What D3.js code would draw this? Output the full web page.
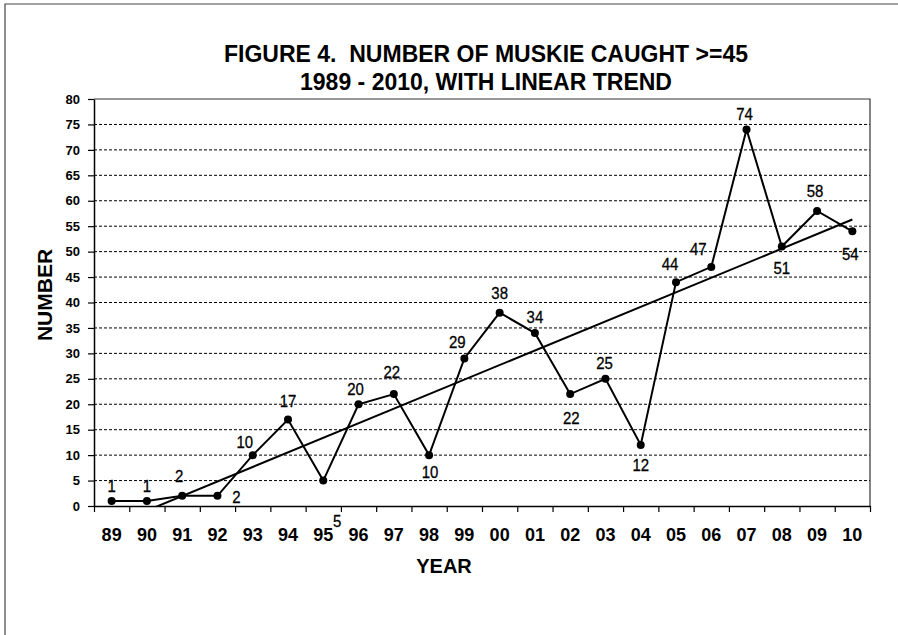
<!DOCTYPE html>
<html>
<head>
<meta charset="utf-8">
<script src="https://cdn.jsdelivr.net/npm/d3@7"></script>
<style>
  body { margin: 0; background: #fff; }
  svg { display: block; font-family: "Liberation Sans", Arial, sans-serif; }
</style>
</head>
<body>
<div id="chart"></div>
<script>
// Data
const years = ['89', '90', '91', '92', '93', '94', '95', '96', '97', '98', '99',
               '00', '01', '02', '03', '04', '05', '06', '07', '08', '09', '10'];
const counts = [1, 1, 2, 2, 10, 17, 5, 20, 22, 10, 29, 38, 34, 22, 25, 12, 44, 47, 74, 51, 58, 54];
const yTickValues = [0, 5, 10, 15, 20, 25, 30, 35, 40, 45, 50, 55, 60, 65, 70, 75, 80];
const titleLines = ['FIGURE 4.  NUMBER OF MUSKIE CAUGHT >=45', '1989 - 2010, WITH LINEAR TREND'];
const xTitle = 'YEAR';
const yTitle = 'NUMBER';

// label offsets (dx, dy of baseline) per point, as placed in the original
const labelOffsets = [
    [0, -9], [0, -9], [-3, -14], [19, 7], [-8, -7], [0, -13], [14, 46], [-3, -9],
    [-2, -16], [1, 23], [-7, -10], [0, -14], [0, -10], [1, 30], [-1, -10], [0, 26],
    [-6, -12], [-13, -12], [-2, -10], [0, 27], [-2, -14], [-2, 29]
];

const W = 898, H = 635;
const plot = { left: 94, right: 870, top: 99, bottom: 506 };

const svg = d3.select('#chart').append('svg')
    .attr('width', W)
    .attr('height', H);

// outer frame (top and left edges visible)
svg.append('path')
    .attr('d', `M5,${H} L5,4 L${W},4`)
    .attr('fill', 'none')
    .attr('stroke', '#444')
    .attr('stroke-width', 1.2);

// scales
const x = d3.scaleBand()
    .domain(years)
    .range([plot.left, plot.right])
    .padding(0);

const xIdx = d3.scaleLinear()
    .domain([0, years.length])
    .range([plot.left, plot.right]);

const y = d3.scaleLinear()
    .domain([0, 80])
    .range([plot.bottom, plot.top]);

const cx = d => x(d) + x.bandwidth() / 2;

// gridlines
svg.append('g')
    .selectAll('line')
    .data(yTickValues.filter(v => v > 0 && v < 80))
    .enter()
    .append('line')
    .attr('x1', plot.left)
    .attr('x2', plot.right)
    .attr('y1', d => y(d))
    .attr('y2', d => y(d))
    .attr('stroke', '#000')
    .attr('stroke-width', 1)
    .attr('stroke-dasharray', '3,2');

// plot area border top and right
svg.append('path')
    .attr('d', `M${plot.left},${y(80)} L${plot.right},${y(80)} L${plot.right},${plot.bottom}`)
    .attr('fill', 'none')
    .attr('stroke', '#333')
    .attr('stroke-width', 1.2);

// y axis
const yAxis = svg.append('g')
    .attr('transform', `translate(${plot.left},0)`)
    .call(d3.axisLeft(y).tickValues(yTickValues).tickSize(6).tickPadding(8).tickSizeOuter(0));
yAxis.select('.domain').attr('stroke', '#000').attr('stroke-width', 1.5);
yAxis.selectAll('.tick line').attr('stroke', '#000').attr('stroke-width', 1.2);
yAxis.selectAll('text')
    .attr('font-size', 13)
    .attr('font-weight', 'bold')
    .attr('fill', '#000')
    .attr('font-family', '"Liberation Sans", Arial, sans-serif');

// x axis: tick marks on band edges, labels in band centres
const xTicks = svg.append('g')
    .attr('transform', `translate(0,${plot.bottom})`)
    .call(d3.axisBottom(xIdx).tickValues(d3.range(years.length + 1)).tickSize(6).tickFormat('').tickSizeOuter(0));
xTicks.select('.domain').attr('stroke', '#000').attr('stroke-width', 1.5);
xTicks.selectAll('.tick line').attr('stroke', '#000').attr('stroke-width', 1.2);

const xLabels = svg.append('g')
    .attr('transform', `translate(0,${plot.bottom})`)
    .call(d3.axisBottom(x).tickSize(0).tickPadding(22));
xLabels.select('.domain').remove();
xLabels.selectAll('text')
    .attr('font-size', 18)
    .attr('font-weight', 'bold')
    .attr('fill', '#000')
    .attr('font-family', '"Liberation Sans", Arial, sans-serif');

// linear trend (least squares over the series)
const n = counts.length;
const xs = d3.range(1, n + 1);
const mx = d3.mean(xs), my = d3.mean(counts);
const slope = d3.sum(xs, (v, i) => (v - mx) * (counts[i] - my)) / d3.sum(xs, v => (v - mx) ** 2);
const intercept = my - slope * mx;

svg.append('clipPath')
    .attr('id', 'plot-clip')
    .append('rect')
    .attr('x', plot.left)
    .attr('y', plot.top)
    .attr('width', plot.right - plot.left)
    .attr('height', plot.bottom - plot.top);

svg.append('line')
    .attr('clip-path', 'url(#plot-clip)')
    .attr('x1', cx(years[0]))
    .attr('y1', y(intercept + slope * 1))
    .attr('x2', cx(years[n - 1]))
    .attr('y2', y(intercept + slope * n))
    .attr('stroke', '#000')
    .attr('stroke-width', 2);

// data line
const line = d3.line()
    .x((d, i) => cx(years[i]))
    .y(d => y(d));

svg.append('path')
    .datum(counts)
    .attr('d', line)
    .attr('fill', 'none')
    .attr('stroke', '#000')
    .attr('stroke-width', 2)
    .attr('stroke-linejoin', 'miter');

svg.append('g')
    .selectAll('circle')
    .data(counts)
    .enter()
    .append('circle')
    .attr('cx', (d, i) => cx(years[i]))
    .attr('cy', d => y(d))
    .attr('r', 4)
    .attr('fill', '#000');

// data labels (narrow look, like the original)
svg.append('g')
    .selectAll('text')
    .data(counts)
    .enter()
    .append('text')
    .attr('transform', (d, i) =>
        `translate(${cx(years[i]) + labelOffsets[i][0]},${y(d) + labelOffsets[i][1]}) scale(0.88,1)`)
    .attr('text-anchor', 'middle')
    .attr('font-family', '"Liberation Sans Narrow", "Arial Narrow", "Liberation Sans", Arial, sans-serif')
    .attr('font-size', 17)
    .attr('fill', '#000')
    .attr('stroke', '#000')
    .attr('stroke-width', 0.3)
    .text(d => d);

// titles
svg.append('g')
    .selectAll('text')
    .data(titleLines)
    .enter()
    .append('text')
    .attr('x', 486)
    .attr('y', (d, i) => 62 + i * 28)
    .attr('text-anchor', 'middle')
    .attr('font-size', 23)
    .attr('font-weight', 'bold')
    .attr('fill', '#000')
    .style('white-space', 'pre')
    .text(d => d);

svg.append('text')
    .attr('x', 444)
    .attr('y', 573)
    .attr('text-anchor', 'middle')
    .attr('font-size', 20)
    .attr('font-weight', 'bold')
    .attr('fill', '#000')
    .text(xTitle);

svg.append('text')
    .attr('transform', `translate(52,295) rotate(-90)`)
    .attr('text-anchor', 'middle')
    .attr('font-size', 21)
    .attr('font-weight', 'bold')
    .attr('fill', '#000')
    .text(yTitle);
</script>
</body>
</html>
